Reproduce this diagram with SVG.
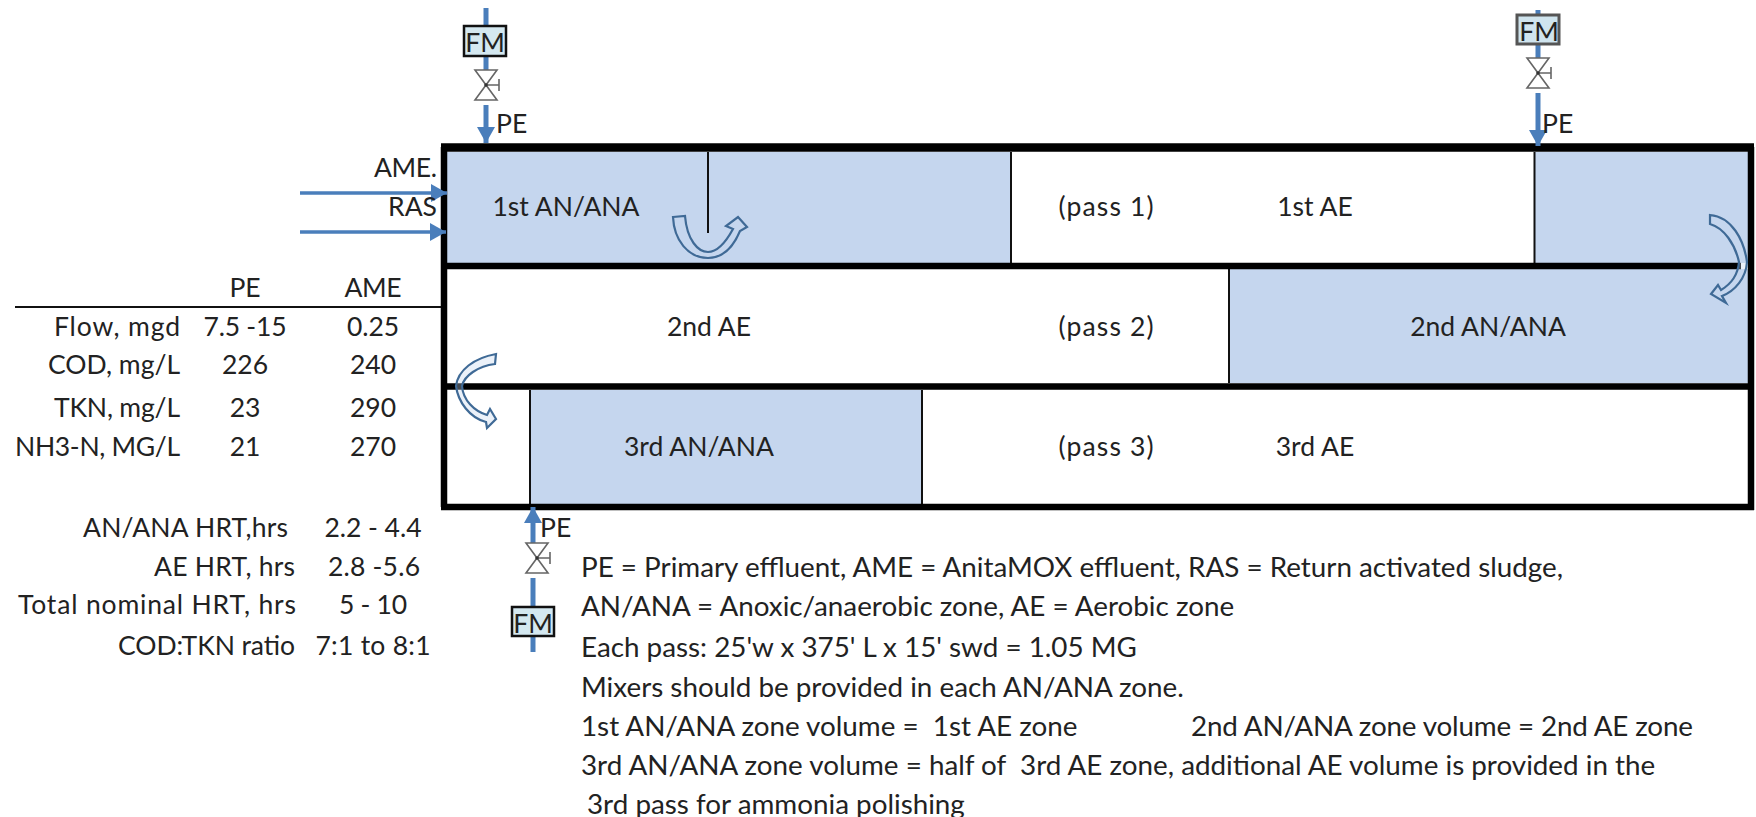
<svg xmlns="http://www.w3.org/2000/svg" width="1756" height="817" viewBox="0 0 1756 817">
<style>
text{font-family:Lato,"Open Sans",sans-serif;font-size:26.500px;fill:#222}
#notes text{font-size:27.800px}
#table text{font-size:26.500px}
.m{text-anchor:middle}.e{text-anchor:end}
.pipe{stroke:#4a7ebb;stroke-width:5;fill:none}
.arr{stroke:#4a7ebb;stroke-width:5;fill:none;marker-end:url(#ah)}
.arr2{stroke:#4a7ebb;stroke-width:3.500;fill:none;marker-end:url(#ah)}
.blue{fill:#c5d6ee}
.wall{fill:none;stroke:#000;stroke-width:6.500}
.thin{stroke:#111;stroke-width:2;fill:none}
.curve{fill:#c5d6ee;fill-opacity:.35;stroke:#3f6a96;stroke-width:2.200}
.fm{fill:#d4e8f0;stroke:#111;stroke-width:2.500}
.fmg{fill:#cfe4ee;stroke:#555;stroke-width:3}
.v{fill:#fff;stroke:#666;stroke-width:1.600}
.vn{fill:none;stroke:#666;stroke-width:1.600}
</style>
<defs>
<marker id="ah" markerUnits="userSpaceOnUse" markerWidth="18" markerHeight="18" refX="16" refY="9" orient="auto"><path d="M0 0L16 9L0 18z" fill="#4a7ebb"/></marker>
<g id="valve"><path class="v" d="M-11 -15H11L-11 15H11z"/><path class="vn" d="M0 0H13M13 -6V6"/><circle r="1.800" fill="#333"/></g>
</defs>
<g id="tank">
<rect class="blue" x="447" y="152" width="564" height="111"/>
<rect class="blue" x="1534" y="152" width="214" height="111"/>
<rect class="blue" x="1229" y="269" width="519" height="114"/>
<rect class="blue" x="530" y="390" width="392" height="114"/>
<path class="thin" d="M1011 152V263M1534.500 152V263M1229 269V383M530 390V504M922 390V504M708 152V233"/>
<path class="wall" d="M444 507V147M1751 147V510M441 507H1754"/>
<path class="wall" d="M441 147.500H1754" style="stroke-width:8.500"/>
<path class="wall" d="M444 266H1741M444 386.500H1751"/>
</g>
<g id="connectors">
<path class="pipe" d="M486 8V26M486 56V70M1538 10V14M1538 45V58"/>
<path class="arr" d="M486 105V143"/>
<path class="arr" d="M1538 93V146"/>
<path class="arr2" d="M300 193H447"/>
<path class="arr2" d="M300 232H446"/>
<path class="arr" d="M533 543V507"/>
<path class="pipe" d="M533 578V652"/>
<path class="thin" d="M15 307H441"/>
</g>
<g id="fm-top-left"><rect class="fm" x="464" y="26" width="42" height="30"/><text class="m" x="485" y="52">FM</text></g>
<g id="fm-top-right"><rect class="fmg" x="1517" y="15" width="42" height="29"/><text class="m" x="1539" y="41">FM</text></g>
<g id="fm-bottom"><rect class="fm" x="512" y="607" width="42" height="29"/><text class="m" x="533" y="633">FM</text></g>
<use id="valve-top-left" href="#valve" x="486" y="85"/>
<use id="valve-top-right" href="#valve" x="1538" y="73"/>
<use id="valve-bottom" href="#valve" x="537" y="558"/>
<g id="mixing-arrows">
<path class="curve" d="M673 217L685 216C687 240 698 252 708 252C718 252 727 240 733 229L726 226L738 217L747 227L740 231C732 250 720 258 708 258C688 258 674 240 673 217Z"/>
<path class="curve" d="M1710 215C1732 217 1744 240 1747 262C1746 278 1735 291 1722 296L1726 303L1711 294L1718 285L1721 290C1731 284 1738 274 1739 262C1735 244 1724 228 1710 224Z"/>
<path class="curve" d="M496 354L495 364C478 366 464 376 462 386C463 400 474 411 487 415L490 409L496 419L487 428L486 422C470 418 458 402 456 386C458 370 474 358 496 354Z"/>
</g>
<g id="labels">
<text x="496" y="133">PE</text><text x="1542" y="133">PE</text><text x="540" y="537">PE</text>
<text class="e" x="437" y="177" textLength="63">AME.</text><text class="e" x="437" y="216">RAS</text>
<text class="m" x="566" y="216">1st AN/ANA</text><text class="m" x="1106" y="216" textLength="95">(pass 1)</text><text class="m" x="1315" y="216">1st AE</text>
<text class="m" x="709" y="336">2nd AE</text><text class="m" x="1106" y="336" textLength="95">(pass 2)</text><text class="m" x="1488" y="336">2nd AN/ANA</text>
<text class="m" x="699" y="456">3rd AN/ANA</text><text class="m" x="1106" y="456" textLength="95">(pass 3)</text><text class="m" x="1315" y="456">3rd AE</text>
</g>
<g id="table">
<text class="m" x="245" y="297">PE</text><text class="m" x="373" y="297" textLength="57">AME</text>
<text x="54" y="336" textLength="126">Flow, mgd</text><text class="m" x="245" y="336" textLength="83">7.5 -15</text><text class="m" x="373" y="336" textLength="52">0.25</text>
<text x="48" y="374" textLength="132">COD, mg/L</text><text class="m" x="245" y="374">226</text><text class="m" x="373" y="374">240</text>
<text x="54" y="417" textLength="126">TKN, mg/L</text><text class="m" x="245" y="417">23</text><text class="m" x="373" y="417">290</text>
<text x="15" y="456" textLength="165">NH3-N, MG/L</text><text class="m" x="245" y="456">21</text><text class="m" x="373" y="456">270</text>
<text x="83" y="537" textLength="205">AN/ANA HRT,hrs</text><text class="m" x="373" y="537" textLength="97">2.2 - 4.4</text>
<text x="154" y="576" textLength="141">AE HRT, hrs</text><text class="m" x="374" y="576" textLength="92">2.8 -5.6</text>
<text x="18" y="614" textLength="278">Total nominal HRT, hrs</text><text class="m" x="373" y="614" textLength="68">5 - 10</text>
<text x="118" y="655" textLength="177">COD:TKN ratio</text><text class="m" x="373" y="655" textLength="115">7:1 to 8:1</text>
</g>
<g id="notes">
<text x="581" y="577">PE = Primary effluent, AME = AnitaMOX effluent, RAS = Return activated sludge,</text>
<text x="581" y="616">AN/ANA = Anoxic/anaerobic zone, AE = Aerobic zone</text>
<text x="581" y="657">Each pass: 25'w x 375' L x 15' swd = 1.05 MG</text>
<text x="581" y="697">Mixers should be provided in each AN/ANA zone.</text>
<text x="581" y="736" xml:space="preserve">1st AN/ANA zone volume =  1st AE zone</text>
<text x="1191" y="736" textLength="502">2nd AN/ANA zone volume = 2nd AE zone</text>
<text x="581" y="775" xml:space="preserve">3rd AN/ANA zone volume = half of  3rd AE zone, additional AE volume is provided in the</text>
<text x="587" y="814">3rd pass for ammonia polishing</text>
</g>
</svg>
